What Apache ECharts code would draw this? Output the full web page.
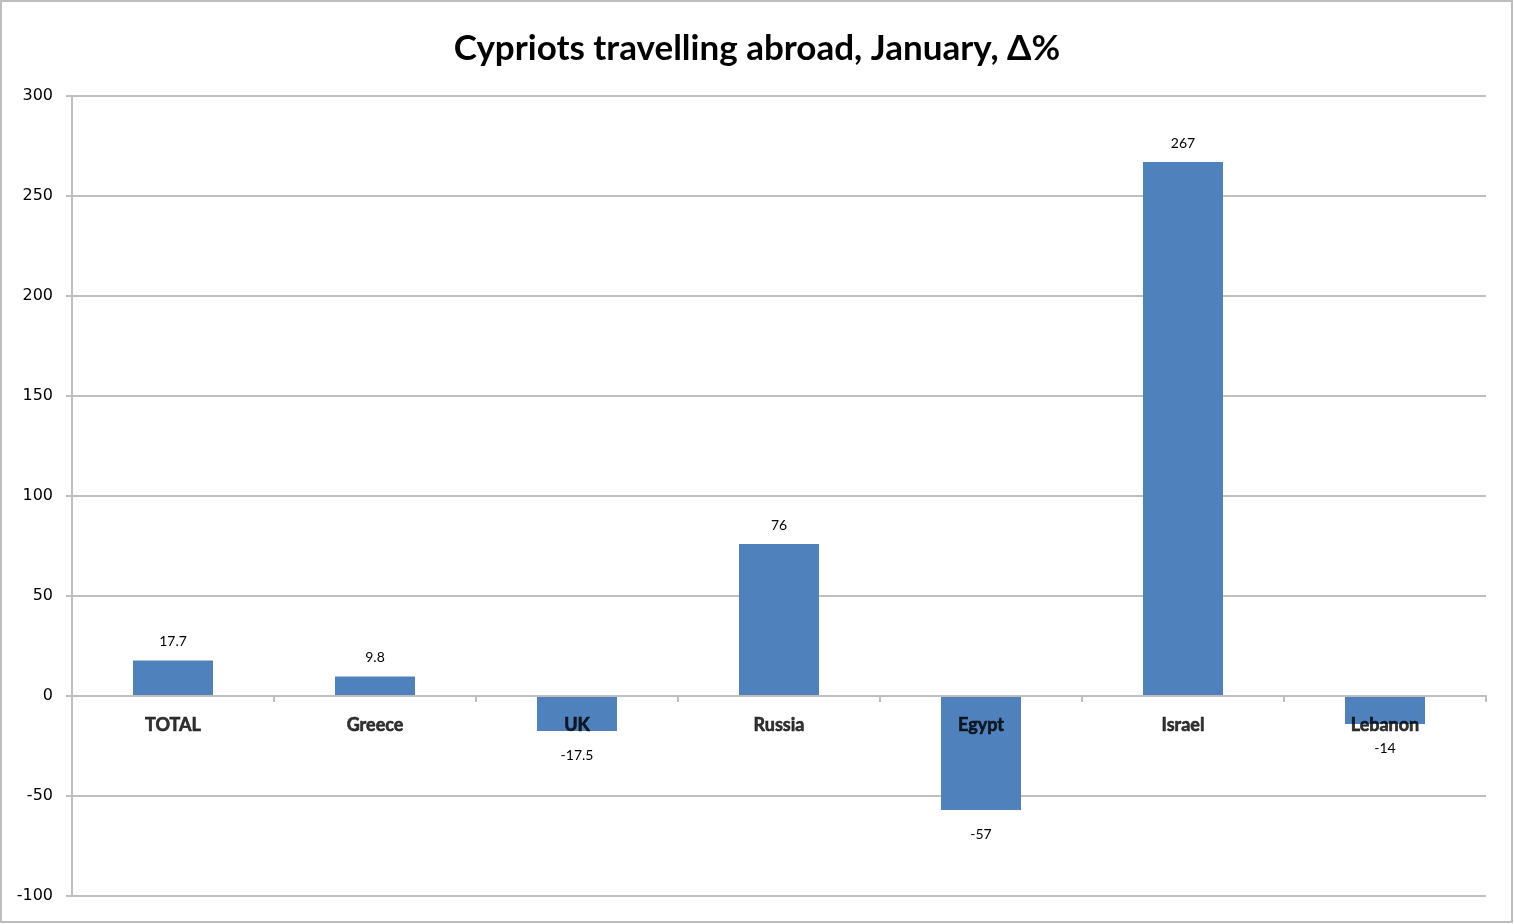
<!DOCTYPE html>
<html>
<head>
<meta charset="utf-8">
<script src="https://cdn.jsdelivr.net/npm/echarts@6/dist/echarts.min.js"></script>
<style>
html,body{margin:0;padding:0;background:#fff;}
#c{width:1514px;height:924px;}
</style>
</head>
<body>
<div id="c"></div>
<script>
const titleText = 'Cypriots travelling abroad, January, Δ%';
const categories = ['TOTAL', 'Greece', 'UK', 'Russia', 'Egypt', 'Israel', 'Lebanon'];
const values = [17.7, 9.8, -17.5, 76, -57, 267, -14];
const yMin = -100, yMax = 300, yStep = 50;

const chart = echarts.init(document.getElementById('c'));
const seriesData = values.map(v => ({
  value: v,
  label: v >= 0 ? { position: 'top', distance: 12 } : { position: 'bottom', distance: 17 }
}));
const zeroAnchors = categories.map(() => 0);

chart.setOption({
  animation: false,
  backgroundColor: '#ffffff',
  title: {
    text: titleText,
    left: 'center',
    top: 26,
    textStyle: { fontFamily: 'Lato', fontWeight: 'bold', fontSize: 35, color: '#000' }
  },
  graphic: [{
    type: 'rect',
    shape: { x: 1, y: 1, width: 1511, height: 921 },
    style: { fill: 'none', stroke: '#BDBDBD', lineWidth: 2 },
    silent: true
  }],
  grid: { left: 72, right: 28, top: 96, bottom: 28, containLabel: false, outerBoundsMode: 'none' },
  xAxis: {
    type: 'category',
    data: categories,
    axisLine: { onZero: true, lineStyle: { color: '#BEBEBE', width: 2 } },
    axisTick: { show: true, length: 6, alignWithLabel: false, lineStyle: { color: '#BEBEBE', width: 2 } },
    axisLabel: { show: false },
    z: 5
  },
  yAxis: {
    type: 'value',
    min: yMin, max: yMax, interval: yStep,
    axisLine: { show: true, lineStyle: { color: '#BEBEBE', width: 2 } },
    axisTick: { show: true, length: 6, lineStyle: { color: '#BEBEBE', width: 2 } },
    axisLabel: { margin: 19, padding: [4, 0, 0, 0], fontFamily: 'DejaVu Sans', fontSize: 16, color: '#000' },
    splitLine: { show: true, lineStyle: { color: '#BEBEBE', width: 2 } }
  },
  series: [{
    type: 'bar',
    data: seriesData,
    barWidth: 80,
    itemStyle: { color: '#4F81BD' },
    label: { show: true, fontFamily: 'Lato', fontSize: 14, color: '#000' },
    z: 2
  }, {
    type: 'scatter',
    data: zeroAnchors,
    symbolSize: 0,
    silent: true,
    z: 10,
    label: {
      show: true,
      position: 'bottom',
      distance: 20,
      formatter: '{b}',
      fontFamily: 'Lato', fontWeight: 700, fontSize: 18, color: '#000',
      textBorderColor: '#000', textBorderWidth: 0.6
    }
  }]
});
</script>
</body>
</html>
